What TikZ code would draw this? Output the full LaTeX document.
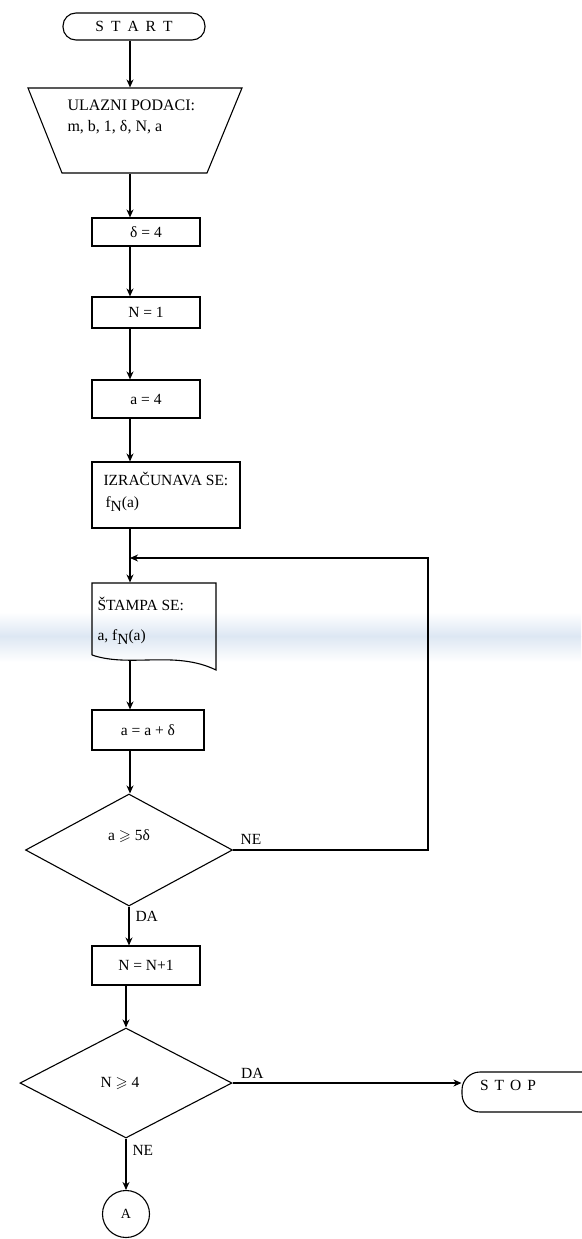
\documentclass[tikz,border=0pt]{standalone}
\usepackage{fontspec}
\setmainfont{Liberation Serif}
\usepackage{amssymb}
\usetikzlibrary{shapes.geometric,arrows.meta}
\begin{document}
\begin{tikzpicture}[x=1pt,y=-1pt, line width=1.1pt,
  font=\fontsize{15.5}{18}\selectfont,
  arr/.style={-{Stealth[length=8pt,width=7pt,inset=2.5pt]}},
  box/.style={draw, rectangle, inner sep=0pt},
  dec/.style={draw, diamond, inner sep=0pt},
  term/.style={draw, rectangle, rounded corners=13pt, inner sep=0pt},
  lbl/.style={inner sep=0pt}]
\useasboundingbox (0,0) rectangle (581,1239);
% faint scan band
\shade[top color=white, bottom color={rgb,255:red,221;green,231;blue,243}, draw=none] (0,612) rectangle (581,636);
\shade[top color={rgb,255:red,221;green,231;blue,243}, bottom color=white, draw=none] (0,636) rectangle (581,662);

% main flow axis
\coordinate (ax) at (130,0);

\node[term, minimum width=142, minimum height=27] (start) at (134,26.5)
  {S\hspace{7pt}T\hspace{7pt}A\hspace{7pt}R\hspace{7pt}T};

% input trapezoid
\coordinate (t1) at (28,88);
\coordinate (t2) at (242,88);
\coordinate (t3) at (207,173);
\coordinate (t4) at (62,173);
\draw (t1) -- (t2) -- (t3) -- (t4) -- cycle;
\node[minimum width=145, minimum height=85, inner sep=0pt] (in) at (134,130.5) {};
\node[lbl, anchor=west, align=left, font=\fontsize{16}{21}\selectfont] (intext) at (67,117)
  {ULAZNI PODACI:\\m, b, 1, δ, N, a};

\node[box, minimum width=108, minimum height=28] (d4) at (146,232) {δ = 4\hspace{24pt}};
\node[box, minimum width=108, minimum height=31] (n1) at (146,312.5) {N = 1\hspace{24pt}};
\node[box, minimum width=108, minimum height=38] (a4) at (146,399) {a = 4\hspace{24pt}};
\node[box, minimum width=148, minimum height=66] (izr) at (166,495) {};
\node[lbl, anchor=north west, align=left, font=\fontsize{15.5}{22}\selectfont] (izrtext) at (103,472)
  {IZRAČUNAVA SE:\\\hspace{2pt}f\raisebox{-4pt}{N}(a)};

% document shape
\coordinate (s1) at (92,583);
\coordinate (s2) at (216,583);
\coordinate (s3) at (216,670);
\coordinate (s4) at (92,655);
\draw (s4) -- (s1) -- (s2) -- (s3) .. controls (175,650) and (130,668) .. (s4);
\node[minimum width=124, minimum height=72, inner sep=0pt] (st) at (154,619) {};
\node[lbl, anchor=north west, align=left, font=\fontsize{15.5}{30}\selectfont] (sttext) at (97,597)
  {ŠTAMPA SE:\\a, f\raisebox{-4pt}{N}(a)};
\coordinate (stb) at (130,661);

\node[box, minimum width=112, minimum height=40] (aad) at (148,730) {a = a + δ\hspace{18pt}};
\node[dec, minimum width=207, minimum height=112] (d1) at (129,850) {};
\node[lbl] (d1t) at ([yshift=14pt]d1.center) {a $\geqslant$ 5δ};

\node[box, minimum width=108, minimum height=39] (n2) at (146,965.5) {N = N+1\hspace{16pt}};
\node[dec, minimum width=212, minimum height=110] (d2) at (126,1083) {};
\node[lbl] (d2t) at ([xshift=-6pt]d2.center) {N $\geqslant$ 4};

\node[term, rounded corners=18pt, minimum width=150, minimum height=40] (stop) at (537,1092) {};
\node[lbl, anchor=west] (stoptext) at ([xshift=18pt,yshift=7pt]stop.west)
  {S\hspace{6pt}T\hspace{6pt}O\hspace{6pt}P};

\node[draw, circle, minimum size=47, inner sep=0pt, font=\fontsize{14}{16}\selectfont] (A) at (126,1214) {A};

% labels
\node[lbl, anchor=south west] (ne1) at ([xshift=7pt,yshift=5pt]d1.east) {NE};
\node[lbl, anchor=north west] (da1) at ([xshift=6pt,yshift=-4pt]d1.south) {DA};
\node[lbl, anchor=south west] (da2) at ([xshift=8pt,yshift=4pt]d2.east) {DA};
\node[lbl, anchor=north west] (ne2) at ([xshift=6pt,yshift=-6pt]d2.south) {NE};

% loop corner coordinates
\coordinate (lc) at (428,558);
\coordinate (lp) at (130,558);

% connectors
\draw[arr] (start.south -| ax) -- (ax |- in.north);
\draw[arr] (ax |- in.south) -- (ax |- d4.north);
\draw[arr] (ax |- d4.south) -- (ax |- n1.north);
\draw[arr] (ax |- n1.south) -- (ax |- a4.north);
\draw[arr] (ax |- a4.south) -- (ax |- izr.north);
\draw[arr] (ax |- izr.south) -- (ax |- st.north);
\draw[arr] (stb) -- (ax |- aad.north);
\draw[arr] (ax |- aad.south) -- (ax |- d1.north);
\draw[arr] (d1.east) -| (lc) -- (lp);
\draw[arr] (d1.south) -- (d1.south |- n2.north);
\draw[arr] (n2.south -| d2.north) -- (d2.north);
\draw[arr] (d2.east) -- (d2.east -| stop.west);
\draw[arr] (d2.south) -- (A.north);
\end{tikzpicture}
\end{document}
